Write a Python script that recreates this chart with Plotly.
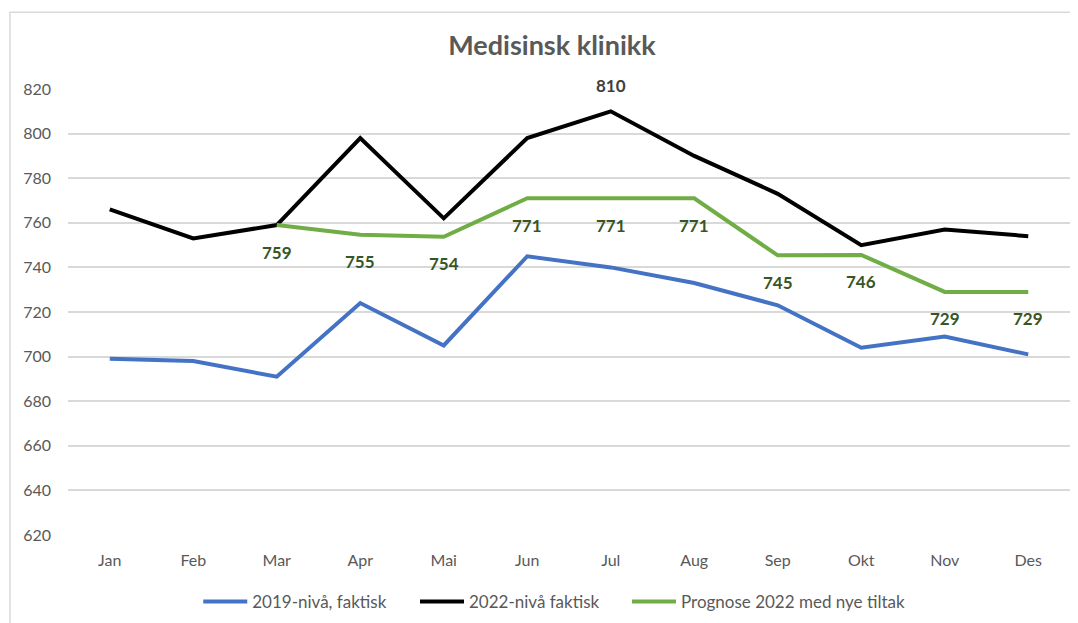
import plotly.graph_objects as go

months = ["Jan", "Feb", "Mar", "Apr", "Mai", "Jun", "Jul", "Aug", "Sep", "Okt", "Nov", "Des"]
niva_2019 = [699, 698, 691, 724, 705, 745, 740, 733, 723, 704, 709, 701]
niva_2022 = [766, 753, 759, 798, 762, 798, 810, 790, 773, 750, 757, 754]
prognose_2022 = [None, None, 759, 754.6, 753.7, 771, 771, 771, 745.4, 745.6, 729, 729]

font_family = "Lato, Open Sans, sans-serif"
grey = "#595959"

fig = go.Figure()
fig.add_trace(go.Scatter(
    x=months, y=niva_2019, mode="lines", name="2019-nivå, faktisk",
    line=dict(color="#4472C4", width=4), legend="legend",
))
fig.add_trace(go.Scatter(
    x=months, y=niva_2022, mode="lines", name="2022-nivå faktisk",
    line=dict(color="#000000", width=4), legend="legend2",
))
fig.add_trace(go.Scatter(
    x=months, y=prognose_2022, mode="lines", name="Prognose 2022 med nye tiltak",
    line=dict(color="#70AD47", width=4), legend="legend3",
))

# data labels
peak = max(niva_2022)
for m, v in zip(months, niva_2022):
    if v == peak:
        fig.add_annotation(x=m, y=v, text=f"<b>{v}</b>", showarrow=False, yshift=26,
                           font=dict(family=font_family, size=17, color="#404040"))
for m, v in zip(months, prognose_2022):
    if v is not None:
        fig.add_annotation(x=m, y=v, text=f"<b>{v:.0f}</b>", showarrow=False, yshift=-27,
                           font=dict(family=font_family, size=17, color="#375623"))

def legend_at(x):
    return dict(orientation="h", x=x, xanchor="left", y=-0.1477, yanchor="middle",
                font=dict(size=17, color=grey, family=font_family), itemwidth=44,
                bgcolor="rgba(0,0,0,0)")

fig.update_layout(
    width=1078, height=623,
    margin=dict(l=60, r=16, t=81, b=95),
    paper_bgcolor="white", plot_bgcolor="white",
    font=dict(family=font_family, color=grey, size=15),
    title=dict(text="<b>Medisinsk klinikk</b>", x=0.5046, xanchor="center", y=0.939, yanchor="middle",
               font=dict(size=27, color=grey, family=font_family)),
    showlegend=True,
    legend=legend_at(0.13),
    legend2=legend_at(0.3463),
    legend3=legend_at(0.5579),
    xaxis=dict(showgrid=False, showline=False, ticks="", tickfont=dict(size=16, color=grey),
               range=[-0.5, 11.5], ticklabelstandoff=14, automargin=False),
    yaxis=dict(range=[620, 820], dtick=20, showgrid=True, gridcolor="#D9D9D9", gridwidth=1.5,
               zeroline=False, showline=False, ticks="", tickfont=dict(size=16, color=grey),
               ticklabelstandoff=16, automargin=False),
    shapes=[dict(type="rect", xref="paper", yref="paper",
                 x0=-0.0579, x1=1.05, y0=-0.25, y1=1.172,
                 line=dict(color="#D9D9D9", width=1.5), fillcolor="rgba(0,0,0,0)", layer="below")],
)

fig.write_html("out.html")
